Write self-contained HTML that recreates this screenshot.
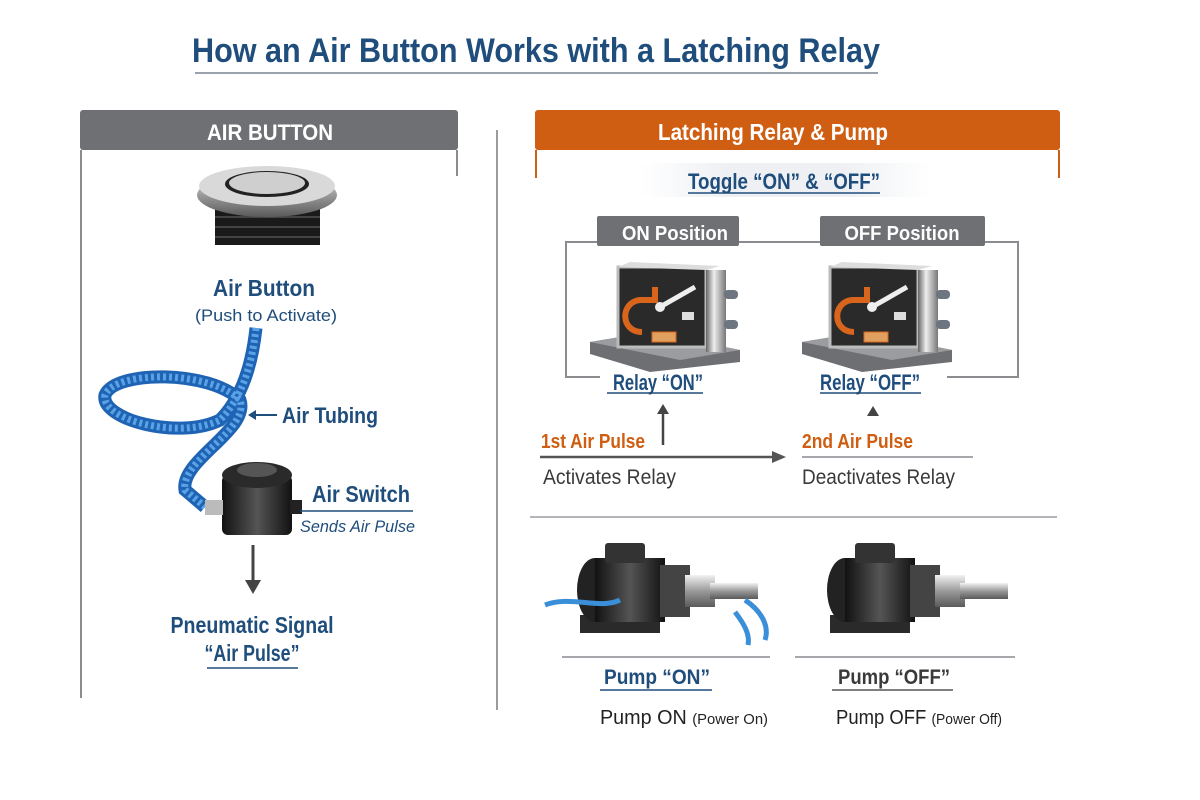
<!DOCTYPE html>
<html><head><meta charset="utf-8"><style>
html,body{margin:0;padding:0;background:#fff}
svg{display:block}
text{font-family:"Liberation Sans Narrow","Liberation Sans",sans-serif;font-weight:bold}
</style></head><body>
<svg width="1200" height="800" viewBox="0 0 1200 800" xmlns="http://www.w3.org/2000/svg">
<defs>
<linearGradient id="steel" x1="0" y1="0" x2="0" y2="1"><stop offset="0" stop-color="#f2f2f2"/><stop offset=".5" stop-color="#9a9a9a"/><stop offset="1" stop-color="#5a5a5a"/></linearGradient>
<linearGradient id="steel2" x1="0" y1="0" x2="1" y2="0"><stop offset="0" stop-color="#666"/><stop offset=".4" stop-color="#eee"/><stop offset="1" stop-color="#777"/></linearGradient>
<linearGradient id="blk" x1="0" y1="0" x2="1" y2="0"><stop offset="0" stop-color="#111"/><stop offset=".5" stop-color="#555"/><stop offset="1" stop-color="#111"/></linearGradient>
<linearGradient id="fade" x1="0" y1="0" x2="1" y2="0"><stop offset="0" stop-color="#eef0f3" stop-opacity="0"/><stop offset=".3" stop-color="#eef0f3"/><stop offset=".7" stop-color="#eef0f3"/><stop offset="1" stop-color="#eef0f3" stop-opacity="0"/></linearGradient>
<g id="relay">
<polygon points="0,80 60,70 150,88 150,100 60,110 0,92" fill="#6d6f73"/>
<polygon points="0,80 60,70 150,88 90,98" fill="#9a9ca0"/>
<rect x="28" y="5" width="88" height="80" fill="#2a2a2a" stroke="#bbb" stroke-width="3"/>
<rect x="116" y="8" width="20" height="82" fill="url(#steel2)"/>
<polygon points="28,5 40,0 130,4 116,8" fill="#ddd"/>
<rect x="134" y="28" width="14" height="9" rx="4" fill="#6d7580"/>
<rect x="134" y="58" width="14" height="9" rx="4" fill="#6d7580"/>
<path d="M52,70 C30,70 30,40 50,38 L65,38 L65,25" fill="none" stroke="#d8651b" stroke-width="6"/>
<line x1="70" y1="45" x2="105" y2="25" stroke="#eee" stroke-width="5"/>
<circle cx="70" cy="45" r="5" fill="#eee"/>
<rect x="92" y="50" width="12" height="8" fill="#ddd"/>
<rect x="62" y="70" width="24" height="10" fill="#e0a060" stroke="#d8651b"/>
</g>
<g id="pump">
<rect x="20" y="80" width="80" height="18" fill="#2a2a2a"/>
<ellipse cx="35" cy="55" rx="18" ry="32" fill="#222"/>
<rect x="35" y="23" width="70" height="64" fill="url(#blk)"/>
<rect x="45" y="8" width="40" height="20" rx="3" fill="#333"/>
<rect x="100" y="30" width="30" height="52" fill="#444"/>
<rect x="125" y="40" width="30" height="32" fill="url(#steel)"/>
<rect x="150" y="48" width="48" height="16" fill="url(#steel)"/>
</g>
</defs>

<!-- Title -->
<text x="536" y="62" font-size="34" fill="#1f4d7c" text-anchor="middle" textLength="688" lengthAdjust="spacingAndGlyphs">How an Air Button Works with a Latching Relay</text>
<line x1="195" y1="73" x2="878" y2="73" stroke="#9aa3ad" stroke-width="2"/>

<!-- Left panel -->
<rect x="80" y="110" width="378" height="40" rx="3" fill="#6e7073"/>
<text x="270" y="140" font-size="22" fill="#fff" text-anchor="middle" textLength="126" lengthAdjust="spacingAndGlyphs">AIR BUTTON</text>
<line x1="81" y1="150" x2="81" y2="698" stroke="#8a8c90" stroke-width="2"/>
<line x1="457" y1="150" x2="457" y2="176" stroke="#8a8c90" stroke-width="2"/>
<line x1="497" y1="130" x2="497" y2="710" stroke="#9a9ca0" stroke-width="2"/>

<!-- air button -->
<rect x="215" y="205" width="105" height="40" fill="#1a1a1a"/>
<g stroke="#444" stroke-width="2"><line x1="215" y1="217" x2="320" y2="217"/><line x1="215" y1="227" x2="320" y2="227"/><line x1="215" y1="237" x2="320" y2="237"/></g>
<ellipse cx="267" cy="195" rx="70" ry="22" fill="url(#steel)"/>
<ellipse cx="267" cy="186" rx="68" ry="20" fill="#d9d9d9"/>
<ellipse cx="267" cy="184" rx="42" ry="13" fill="#222"/>
<ellipse cx="267" cy="183" rx="38" ry="11" fill="#cfcfcf"/>
<text x="264" y="296" font-size="23" fill="#1f4d7c" text-anchor="middle" textLength="102" lengthAdjust="spacingAndGlyphs">Air Button</text>
<text x="266" y="321" font-size="17" fill="#1f4d7c" text-anchor="middle" style="font-weight:normal" textLength="142" lengthAdjust="spacingAndGlyphs">(Push to Activate)</text>

<!-- tubing -->
<path d="M256,328 C252,365 242,398 220,420 C180,440 100,420 105,395 C115,370 210,370 240,400 C250,430 180,460 185,490 L205,507" fill="none" stroke="#1f64b4" stroke-width="13"/>
<path d="M256,328 C252,365 242,398 220,420 C180,440 100,420 105,395 C115,370 210,370 240,400 C250,430 180,460 185,490 L205,507" fill="none" stroke="#5aa2e6" stroke-width="7" stroke-dasharray="3 3"/>
<line x1="277" y1="415" x2="252" y2="415" stroke="#1f4d7c" stroke-width="2"/>
<polygon points="248,415 256,410 256,420" fill="#1f4d7c"/>
<text x="282" y="423" font-size="22" fill="#1f4d7c" textLength="96" lengthAdjust="spacingAndGlyphs">Air Tubing</text>

<!-- air switch -->
<rect x="222" y="475" width="70" height="60" rx="6" fill="url(#blk)"/>
<ellipse cx="257" cy="475" rx="35" ry="13" fill="#2a2a2a"/>
<ellipse cx="257" cy="470" rx="20" ry="7" fill="#555"/>
<rect x="290" y="500" width="12" height="14" fill="#222"/>
<rect x="205" y="500" width="18" height="15" fill="#bbb"/>
<text x="312" y="502" font-size="23" fill="#1f4d7c" textLength="98" lengthAdjust="spacingAndGlyphs">Air Switch</text>
<line x1="300" y1="511" x2="413" y2="511" stroke="#1f4d7c" stroke-width="1.5"/>
<text x="300" y="532" font-size="17" fill="#1f4d7c" font-style="italic" style="font-weight:normal" textLength="115" lengthAdjust="spacingAndGlyphs">Sends Air Pulse</text>
<line x1="253" y1="545" x2="253" y2="582" stroke="#444" stroke-width="3"/>
<polygon points="245,580 261,580 253,594" fill="#444"/>
<text x="252" y="633" font-size="23" fill="#1f4d7c" text-anchor="middle" textLength="163" lengthAdjust="spacingAndGlyphs">Pneumatic Signal</text>
<text x="252" y="661" font-size="23" fill="#1f4d7c" text-anchor="middle" textLength="95" lengthAdjust="spacingAndGlyphs">“Air Pulse”</text>
<line x1="207" y1="668" x2="298" y2="668" stroke="#1f4d7c" stroke-width="1.5"/>

<!-- Right panel -->
<rect x="535" y="110" width="525" height="40" rx="3" fill="#d05e12"/>
<text x="773" y="140" font-size="23" fill="#fff" text-anchor="middle" textLength="230" lengthAdjust="spacingAndGlyphs">Latching Relay &amp; Pump</text>
<line x1="536" y1="150" x2="536" y2="178" stroke="#d05e12" stroke-width="2"/>
<line x1="1059" y1="150" x2="1059" y2="178" stroke="#d05e12" stroke-width="2"/>
<rect x="640" y="163" width="290" height="34" fill="url(#fade)"/>
<text x="784" y="189" font-size="22" fill="#1f4d7c" text-anchor="middle" textLength="192" lengthAdjust="spacingAndGlyphs">Toggle “ON” &amp; “OFF”</text>
<line x1="688" y1="193" x2="880" y2="193" stroke="#1f4d7c" stroke-width="1.5"/>

<!-- relay frame -->
<g stroke="#8a8c90" stroke-width="2" fill="none">
<polyline points="600,242 566,242 566,377 600,377"/>
<line x1="738" y1="242" x2="820" y2="242"/>
<polyline points="985,242 1018,242 1018,377 947,377"/>
</g>
<rect x="597" y="216" width="142" height="30" rx="2" fill="#6e7073"/>
<text x="675" y="240" font-size="20" fill="#fff" text-anchor="middle" textLength="106" lengthAdjust="spacingAndGlyphs">ON Position</text>
<rect x="820" y="216" width="165" height="30" rx="2" fill="#6e7073"/>
<text x="902" y="240" font-size="20" fill="#fff" text-anchor="middle" textLength="115" lengthAdjust="spacingAndGlyphs">OFF Position</text>
<use href="#relay" x="590" y="262"/>
<use href="#relay" x="802" y="262"/>
<text x="658" y="390" font-size="22" fill="#1f4d7c" text-anchor="middle" textLength="90" lengthAdjust="spacingAndGlyphs">Relay “ON”</text>
<line x1="607" y1="393" x2="703" y2="393" stroke="#1f4d7c" stroke-width="1.5"/>
<text x="870" y="390" font-size="22" fill="#1f4d7c" text-anchor="middle" textLength="100" lengthAdjust="spacingAndGlyphs">Relay “OFF”</text>
<line x1="820" y1="393" x2="921" y2="393" stroke="#1f4d7c" stroke-width="1.5"/>
<line x1="663" y1="445" x2="663" y2="412" stroke="#444" stroke-width="2.5"/>
<polygon points="657,414 669,414 663,404" fill="#444"/>
<polygon points="867,416 879,416 873,406" fill="#444"/>

<text x="541" y="448" font-size="20" fill="#d05e12" textLength="104" lengthAdjust="spacingAndGlyphs">1st Air Pulse</text>
<line x1="540" y1="457" x2="774" y2="457" stroke="#555" stroke-width="2.5"/>
<polygon points="772,451 786,457 772,463" fill="#555"/>
<text x="543" y="484" font-size="21" fill="#3a3a3a" style="font-weight:normal" textLength="133" lengthAdjust="spacingAndGlyphs">Activates Relay</text>
<text x="802" y="448" font-size="20" fill="#d05e12" textLength="111" lengthAdjust="spacingAndGlyphs">2nd Air Pulse</text>
<line x1="802" y1="457" x2="973" y2="457" stroke="#8a8c90" stroke-width="1.5"/>
<text x="802" y="484" font-size="21" fill="#3a3a3a" style="font-weight:normal" textLength="153" lengthAdjust="spacingAndGlyphs">Deactivates Relay</text>

<line x1="530" y1="517" x2="1057" y2="517" stroke="#9a9ca0" stroke-width="1.5"/>

<!-- pumps -->
<use href="#pump" x="560" y="535"/>
<path d="M545,605 C570,595 600,610 620,600 M745,600 C760,610 770,625 765,640 M735,612 C745,625 750,635 748,645" stroke="#3a8fd8" stroke-width="5" fill="none"/>
<use href="#pump" x="810" y="535"/>
<line x1="562" y1="657" x2="770" y2="657" stroke="#8a8c90" stroke-width="1.5"/>
<line x1="795" y1="657" x2="1015" y2="657" stroke="#8a8c90" stroke-width="1.5"/>
<text x="657" y="684" font-size="21" fill="#1f4d7c" text-anchor="middle" textLength="106" lengthAdjust="spacingAndGlyphs">Pump “ON”</text>
<line x1="600" y1="690" x2="712" y2="690" stroke="#1f4d7c" stroke-width="1.5"/>
<text x="894" y="684" font-size="21" fill="#3a3a3a" text-anchor="middle" textLength="112" lengthAdjust="spacingAndGlyphs">Pump “OFF”</text>
<line x1="832" y1="690" x2="953" y2="690" stroke="#555" stroke-width="1.5"/>
<text x="600" y="724" font-size="20" fill="#222" style="font-weight:normal" textLength="168" lengthAdjust="spacingAndGlyphs">Pump ON <tspan font-size="15">(Power On)</tspan></text>
<text x="836" y="724" font-size="20" fill="#222" style="font-weight:normal" textLength="166" lengthAdjust="spacingAndGlyphs">Pump OFF <tspan font-size="15">(Power Off)</tspan></text>
</svg>
</body></html>
